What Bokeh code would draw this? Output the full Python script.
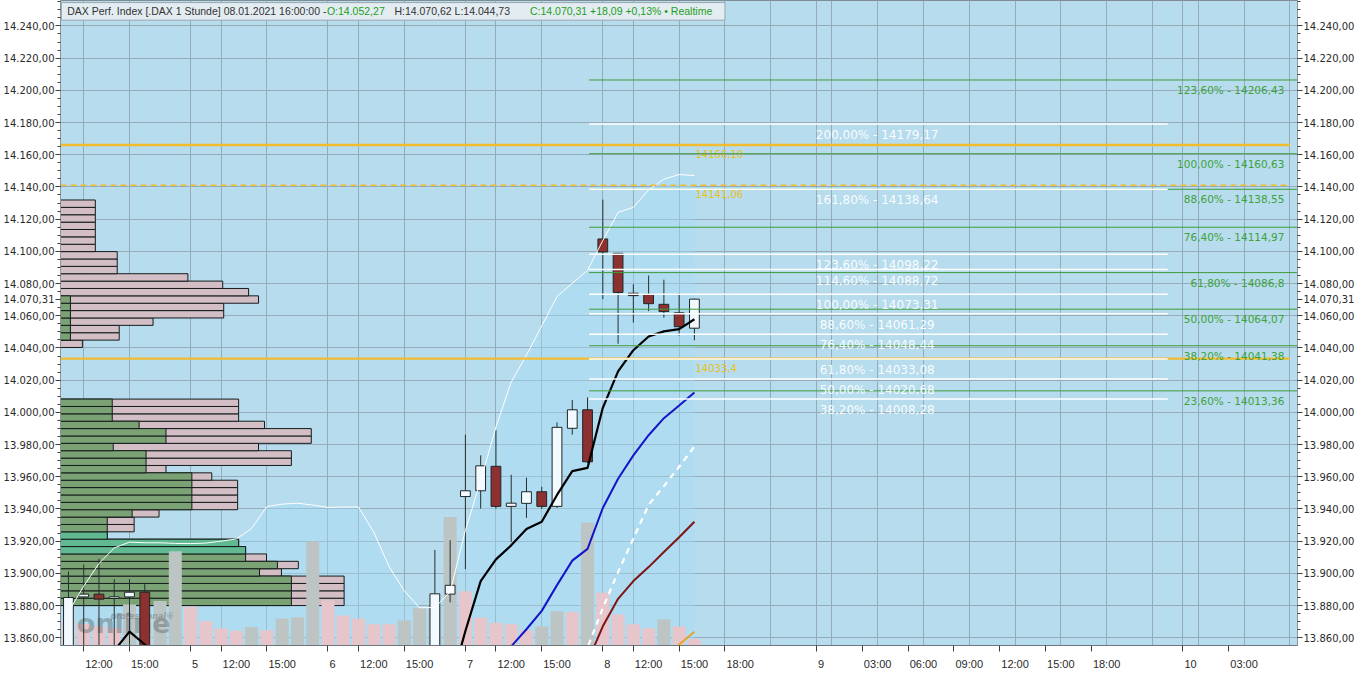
import math
from bokeh.plotting import figure
from bokeh.models import Range1d, LinearAxis, FixedTicker, ColumnDataSource
from bokeh.embed import file_html
from bokeh.resources import INLINE
from bokeh.core.properties import value

nan = float("nan")

# ---------------- data ----------------
candle_slot = [0, 1, 2, 3, 4, 5, 24, 25, 26, 27, 28, 29, 30, 31, 32, 33, 34, 35, 36, 37, 38, 39, 40, 41]
candle_open = [13835.0, 13885.4, 13887.1, 13884.4, 13885.4, 13888.3, 13840.0, 13887.1, 13947.7, 13951.3,
               13966.5, 13941.6, 13943.5, 13950.7, 13941.6, 13990.1, 14001.6, 14107.7, 14098.8, 14074.0,
               14073.3, 14067.1, 14061.8, 14052.27]
candle_high = [13901.2, 13905.5, 13909.1, 13896.4, 13896.4, 13893.3, 13914.5, 13920.6, 13986.1, 13973.3,
               13989.1, 13961.2, 13959.4, 13953.8, 13993.8, 14007.7, 14009.3, 14132.1, 14099.0, 14079.6,
               14085.0, 14082.4, 14073.9, 14070.62]
candle_low = [13820.0, 13850.0, 13850.0, 13850.0, 13850.0, 13830.0, 13830.0, 13882.0, 13902.6, 13940.2,
              13940.2, 13919.4, 13934.5, 13940.0, 13940.6, 13986.1, 13968.5, 14070.3, 14042.6, 14055.8,
              14062.9, 14058.8, 14047.7, 14044.73]
candle_close = [13885.0, 13887.1, 13884.0, 13885.4, 13888.3, 13840.0, 13887.3, 13892.6, 13951.3, 13966.8,
                13941.6, 13943.6, 13950.7, 13941.6, 13990.7, 14001.6, 13969.3, 14099.6, 14074.5, 14072.5,
                14067.5, 14062.6, 14053.2, 14070.31]

volume_slot = list(range(0, 42))
volume = [2500, 2200, 2000, 1800, 4200, 3000, 4570, 9670, 4000, 2500, 1740, 1500, 1900, 1570, 2770, 2900,
          10670, 4600, 3070, 2740, 2170, 2170, 2570, 3840, 4000, 13170, 5570, 2840, 2340, 2170, 1570, 1940,
          3500, 3440, 12600, 5400, 3170, 2170, 1770, 2670, 1940, 670]

band_slot = list(range(0, 42))
band_upper = [13876.0, 13892.1, 13906.1, 13915.8, 13919.4, 13919.0, 13919.0, 13918.6, 13918.5, 13918.8,
              13920.0, 13921.4, 13927.9, 13941.5, 13943.0, 13943.6, 13942.4, 13941.0, 13941.2, 13941.2,
              13925.5, 13904.2, 13889.1, 13878.6, 13878.8, 13888.5, 13926.7, 13957.6, 13990.9, 14018.8,
              14035.5, 14053.7, 14071.9, 14080.2, 14088.2, 14106.7, 14124.2, 14127.3, 14138.2, 14144.8,
              14147.7, 14147.1]

black_slot = [2, 3, 4, 5, 6, 7, 24, 25, 26, 27, 28, 29, 30, 31, 32, 33, 34, 35, 36, 37, 38, 39, 40, 41]
black_ma = [13840.0, 13852.0, 13863.8, 13855.8, 13845.0, nan, nan, 13830.0, 13864.2, 13895.2, 13908.7,
            13917.4, 13927.5, 13932.1, 13948.7, 13963.5, 13965.5, 14002.8, 14025.5, 14038.6, 14047.1,
            14050.3, 14051.7, 14057.8]
blue_slot = list(range(28, 42))
blue_ma = [13840.0, 13854.7, 13865.3, 13876.7, 13892.7, 13907.9, 13915.2, 13940.6, 13958.8, 13973.3,
           13985.8, 13996.4, 14004.2, 14012.3]
dashed_slot = list(range(33, 42))
dashed_ma = [13830.0, 13854.0, 13878.4, 13900.8, 13921.6, 13942.6, 13954.2, 13966.2, 13978.8]
red_slot = list(range(34, 42))
red_ma = [13845.0, 13867.1, 13884.2, 13895.2, 13903.9, 13913.3, 13922.4, 13932.1]
orange_slot = [39, 40, 41]
orange_ma = [13840.0, 13855.8, 13863.8]

# volume profile (bins from bottom to top)
profile_low = 13880.0
profile_bin = 4.58
profile_green = [232, 232, 232, 232, 200, 218, 186, 186, 179, 47, 47, 47, 72, 132, 132, 132, 132, 132, 86, 86,
                 86, 53, 106, 106, 79, 52, 52, 52, 0, 0, 0, 0, 0, 0, 0, 0, 10, 10, 10, 10, 10, 10, 0, 0, 0,
                 0, 0, 0, 0, 0, 0, 0, 0, 0, 0]
profile_total = [285, 285, 285, 285, 222, 239, 207, 186, 179, 47, 74, 74, 99, 178, 178, 178, 178, 152, 106,
                 232, 232, 199, 252, 252, 205, 179, 179, 179, 0, 0, 0, 0, 0, 0, 0, 22, 59, 59, 93, 164, 164,
                 199, 189, 163, 128, 57, 57, 57, 35, 35, 35, 35, 35, 35, 35]
profile_poc_bins = [7, 8, 9]

# fibonacci / levels
fib_green_levels = [14206.43, 14160.63, 14138.55, 14114.97, 14086.8, 14064.07, 14041.38, 14013.36]
fib_green_labels = ["123,60% - 14206,43", "100,00% - 14160,63", "88,60% - 14138,55", "76,40% - 14114,97",
                    "61,80% - 14086,8", "50,00% - 14064,07", "38,20% - 14041,38", "23,60% - 14013,36"]
fib_white_levels = [14179.17, 14138.64, 14098.22, 14088.72, 14073.31, 14061.29, 14048.44, 14033.08,
                    14020.68, 14008.28]
fib_white_labels = ["200,00% - 14179,17", "161,80% - 14138,64", "123,60% - 14098,22", "114,60% - 14088,72",
                    "100,00% - 14073,31", "88,60% - 14061,29", "76,40% - 14048,44", "61,80% - 14033,08",
                    "50,00% - 14020,68", "38,20% - 14008,28"]
orange_levels = [14166.10, 14141.06, 14033.4]
orange_labels = ["14166,10", "14141,06", "14033,4"]
orange_dash = ["solid", "6 4", "solid"]
orange_width = [2.5, 1.5, 2.2]

last_price = 14070.31
last_price_label = "14.070,31"

# axes
xtick_slots = [1, 4, 8, 10, 13, 17, 19, 22, 26, 28, 31, 35, 37, 40, 43, 49, 52, 55, 58, 61, 64, 67, 73, 76]
xtick_labels = ["12:00", "15:00", "5", "12:00", "15:00", "6", "12:00", "15:00", "7", "12:00", "15:00", "8",
                "12:00", "15:00", "18:00", "9", "03:00", "06:00", "09:00", "12:00", "15:00", "18:00", "10",
                "03:00"]
xgrid_slots = [1, 4, 8, 10, 13, 17, 19, 22, 26, 28, 31, 35, 37, 40, 43, 46, 49, 50, 53, 56, 59, 62, 65, 68,
               71, 73, 74, 77, 80]
ytick_values = [13860, 13880, 13900, 13920, 13940, 13960, 13980, 14000, 14020, 14040, 14060, 14080, 14100,
                14120, 14140, 14160, 14180, 14200, 14220, 14240]
ytick_labels = ["13.860,00", "13.880,00", "13.900,00", "13.920,00", "13.940,00", "13.960,00", "13.980,00",
                "14.000,00", "14.020,00", "14.040,00", "14.060,00", "14.080,00", "14.100,00", "14.120,00",
                "14.140,00", "14.160,00", "14.180,00", "14.200,00", "14.220,00", "14.240,00"]

# ---------------- figure ----------------
X0, X1 = -0.52, 80.5
Y0, Y1 = 13855.2, 14255.8
FW, FH = 1237, 645
AX_FONT = "DejaVu Sans"
XL_FONT = "Liberation Sans"

p = figure(frame_width=FW, frame_height=FH, x_range=Range1d(X0, X1), y_range=Range1d(Y0, Y1),
           output_backend="svg", toolbar_location=None,
           min_border_left=58, min_border_right=58, min_border_top=0, min_border_bottom=20,
           background_fill_color="#B6DCEE", border_fill_color="white")
p.extra_y_ranges = {"vol": Range1d(0, 66100)}
p.extra_x_ranges = {"prof": Range1d(0, 1243)}
p.outline_line_color = "#7F8C92"

# y axes (left + right), with the last price shown as an extra labelled tick
ytk = FixedTicker(ticks=ytick_values + [last_price], minor_ticks=list(range(13860, 14256, 5)))
overrides = {v: t for v, t in zip(ytick_values, ytick_labels)}
overrides[last_price] = last_price_label
p.yaxis.ticker = ytk
p.yaxis.major_label_overrides = overrides
right_axis = LinearAxis(ticker=ytk, major_label_overrides=overrides)
p.add_layout(right_axis, "right")
for ax in [p.yaxis[0], right_axis]:
    ax.major_label_text_font = AX_FONT
    ax.major_label_text_font_size = "10px"
    ax.major_label_text_color = "#2A2A2A"
    ax.major_label_standoff = 1
    ax.major_tick_out = 5
    ax.major_tick_in = 0
    ax.minor_tick_out = 3
    ax.minor_tick_in = 0
    ax.major_tick_line_color = "#404040"
    ax.minor_tick_line_color = "#404040"
    ax.axis_line_color = "#8A969C"

# x axis: tick marks only
xa = p.xaxis[0]
xa.ticker = FixedTicker(ticks=xtick_slots)
xa.major_label_text_font_size = "1px"
xa.major_label_text_alpha = 0
xa.major_label_standoff = 0
xa.major_tick_out = 6
xa.major_tick_in = 0
xa.minor_tick_line_color = None
xa.major_tick_line_color = "#404040"
xa.axis_line_color = "#6A767C"

# second x axis carrying the labels, each label starting just right of its tick
PX_PER_SLOT = FW / (X1 - X0)
def text_w(s):
    return sum(3.06 if ch in ":.," else 6.12 for ch in s)
xlab_pos = [round(s + (text_w(t) / 2 + 1.5) / PX_PER_SLOT, 3) for s, t in zip(xtick_slots, xtick_labels)]
lab_axis = LinearAxis(ticker=FixedTicker(ticks=xlab_pos),
                      major_label_overrides={ps: t for ps, t in zip(xlab_pos, xtick_labels)},
                      major_tick_out=0, major_tick_in=0, minor_tick_line_color=None,
                      major_tick_line_color=None, axis_line_color=None, major_label_standoff=6,
                      major_label_text_font=XL_FONT, major_label_text_font_size="11px",
                      major_label_text_color="#2A2A2A")
p.add_layout(lab_axis, "below")

p.xgrid.ticker = FixedTicker(ticks=xgrid_slots)
p.ygrid.ticker = FixedTicker(ticks=ytick_values)
for g in [p.xgrid, p.ygrid]:
    g.grid_line_color = "#95ABB7"
    g.grid_line_width = 1

# ---- bollinger fill ----
p.varea(x=band_slot, y1=[Y0] * len(band_slot), y2=band_upper, fill_color="#A4DCF4", fill_alpha=0.4)

# ---- volume profile ----
bin_center = [profile_low + profile_bin * (k + 0.5) for k in range(len(profile_total))]
pk = [k for k in range(len(profile_total)) if profile_total[k] > 0]
p.hbar(y=[bin_center[k] for k in pk], height=profile_bin, left=0, right=[profile_total[k] for k in pk],
       x_range_name="prof", fill_color="#D3BEC6", line_color="#141C1C", line_width=1)
gk = [k for k in range(len(profile_green)) if profile_green[k] > 0]
p.hbar(y=[bin_center[k] for k in gk], height=profile_bin, left=0, right=[profile_green[k] for k in gk],
       x_range_name="prof",
       fill_color=["#60B990" if k in profile_poc_bins else "#7BA274" for k in gk],
       line_color="#141C1C", line_width=1)

# ---- volume bars ----
vol_colors = ["#BCC4C4" if i > 0 and volume[i] > volume[i - 1] else "#E6C6CA" for i in range(len(volume))]
p.vbar(x=volume_slot, width=0.85, top=volume, bottom=0, y_range_name="vol",
       fill_color=vol_colors, line_color=None)

# ---- watermark ----
p.text(x=[0.55], y=[13859.5], text=["online"], text_font=value("DejaVu Sans"), text_font_size="27px",
       text_font_style="bold", text_color="#5E6868", text_alpha=0.45, text_baseline="bottom")
p.text(x=[2.75], y=[13873.0], text=["professional®"], text_font=value("DejaVu Sans"), text_font_size="8px",
       text_font_style="bold italic", text_color="#707878", text_alpha=0.55, text_baseline="middle")

# ---- candles ----
up = [c >= o for o, c in zip(candle_open, candle_close)]
csrc = ColumnDataSource(dict(x=candle_slot, o=candle_open, h=candle_high, l=candle_low, c=candle_close,
                             fill=["#F2FAFF" if u else "#8C3030" for u in up]))
p.segment(x0="x", y0="l", x1="x", y1="h", source=csrc, line_color="#253030", line_width=1)
p.vbar(x="x", width=0.64, top="o", bottom="c", source=csrc, fill_color="fill", line_color="#1E2626",
       line_width=1)

# ---- indicator lines ----
p.line(band_slot, band_upper, line_color="white", line_width=1)
p.line(black_slot, black_ma, line_color="black", line_width=2.2)
p.line(blue_slot, blue_ma, line_color="#1414C8", line_width=2)
p.line(dashed_slot, dashed_ma, line_color="white", line_width=2.2, line_dash="6 5")
p.line(red_slot, red_ma, line_color="#7E1414", line_width=2)
p.line(orange_slot, orange_ma, line_color="#E6A428", line_width=2)

# ---- horizontal levels ----
ORANGE_X1 = 80.0
FIB_X0 = 34.1
WHITE_X1 = 72.0
for lv, dash, w in zip(orange_levels, orange_dash, orange_width):
    p.segment(x0=[X0], y0=[lv], x1=[ORANGE_X1], y1=[lv], line_color="#F2BC2E", line_width=w, line_dash=dash)
p.text(x=[41.07] * len(orange_levels), y=orange_levels, text=orange_labels, text_font=value("DejaVu Sans"),
       text_font_size="10px", text_color="#E9C01C", text_baseline="middle", y_offset=9)

p.segment(x0=[FIB_X0] * len(fib_green_levels), y0=fib_green_levels, x1=[X1] * len(fib_green_levels),
          y1=fib_green_levels, line_color="#3E9C3A", line_width=1)
p.segment(x0=[FIB_X0] * len(fib_white_levels), y0=fib_white_levels, x1=[WHITE_X1] * len(fib_white_levels),
          y1=fib_white_levels, line_color="white", line_width=1.5)
p.text(x=[79.64] * len(fib_green_levels), y=fib_green_levels, text=fib_green_labels,
       text_font=value("DejaVu Sans"), text_font_size="10.5px", text_color="#3FA23A",
       text_align="right", text_baseline="middle", y_offset=10)
p.text(x=[52.97] * len(fib_white_levels), y=fib_white_levels, text=fib_white_labels,
       text_font=value("DejaVu Sans"), text_font_size="12px", text_color="white", text_alpha=0.95,
       text_align="center", text_baseline="middle", y_offset=11)

# ---- header ----
p.quad(left=[-0.46], right=[43.0], bottom=[14243.6], top=[14254.5], fill_color="#E3ECF1",
       line_color="#9AA6AE", line_width=1)
HF = "Liberation Sans"
head_y = 14249.1
head_parts = [("DAX Perf. Index [.DAX 1 Stunde] 08.01.2021 16:00:00 - ", "#333333", -0.08),
              ("O:14.052,27", "#1E9E1E", 16.93),
              ("H:14.070,62 L:14.044,73", "#333333", 21.35),
              ("C:14.070,31 +18,09 +0,13% • Realtime", "#1E9E1E", 30.23)]
for txt, col, xs in head_parts:
    p.text(x=[xs], y=[head_y], text=[txt], text_font=value(HF), text_font_size="10.5px", text_color=col,
           text_baseline="middle", text_align="left")

open("out.html", "w").write(file_html(p, INLINE))
